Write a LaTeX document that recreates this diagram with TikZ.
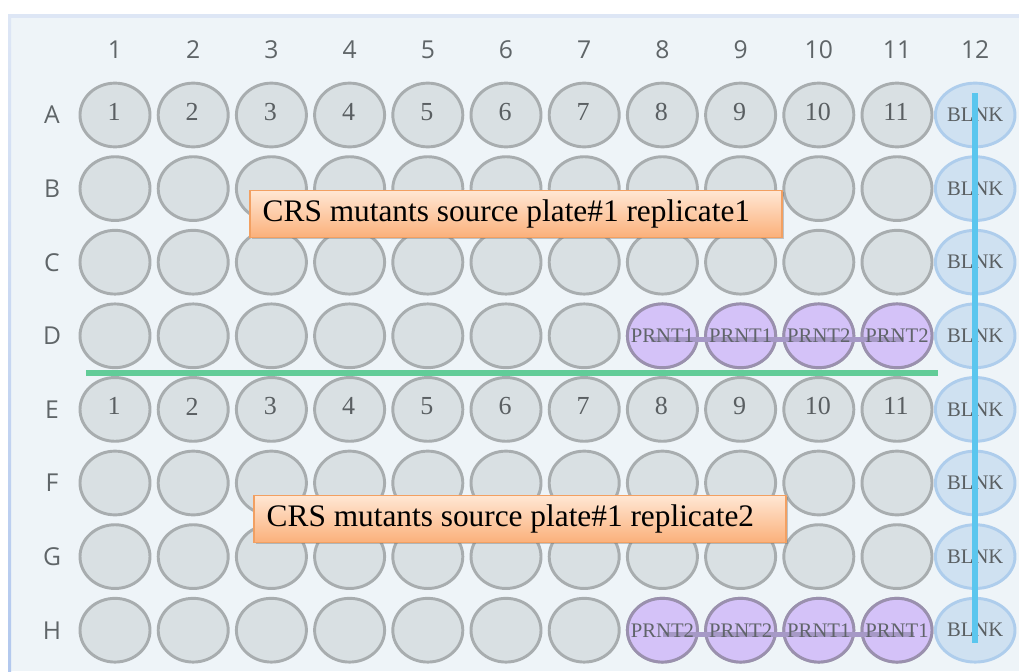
\documentclass[tikz,border=0pt]{standalone}
\usepackage{fontspec}
\setmainfont{Liberation Serif}
\newfontfamily\labfont{Open Sans}
\usetikzlibrary{shapes.geometric,shadows,calc}

\definecolor{platebg}{HTML}{EEF4F8}
\definecolor{platetop}{HTML}{DDE6F5}
\definecolor{plateside}{HTML}{B2C8EE}
\definecolor{wellfill}{HTML}{D9E0E3}
\definecolor{welledge}{HTML}{A8ADAF}
\definecolor{welltext}{HTML}{5A5F62}
\definecolor{labtext}{HTML}{5F6568}
\definecolor{blankfill}{HTML}{CFE1F1}
\definecolor{blankedge}{HTML}{AECDEC}
\definecolor{prntfill}{HTML}{D4C2F8}
\definecolor{prntedge}{HTML}{9A90AE}
\definecolor{prntline}{HTML}{A699C6}
\definecolor{blankline}{HTML}{5BC6EE}
\definecolor{splitline}{HTML}{62CC98}
\definecolor{tagtop}{HTML}{FFE7D4}
\definecolor{tagbot}{HTML}{FBB07A}
\definecolor{tagedge}{HTML}{F2A062}

\tikzset{
  well/.style={ellipse, draw=welledge, fill=wellfill, line width=2.2pt,
    minimum width=52.5pt, minimum height=47.8pt, inner sep=0pt,
    text=welltext, font=\fontsize{19}{19}\selectfont},
  blankwell/.style={well, draw=blankedge, fill=blankfill, font=\fontsize{15.5}{15.5}\selectfont},
  prntwell/.style={well, draw=prntedge, fill=prntfill},
  prnttext/.style={text=welltext!90!prntedge, font=\fontsize{15.5}{15.5}\selectfont, inner sep=0pt},
  axislabel/.style={text=labtext, font=\labfont\fontsize{18.5}{18.5}\selectfont, inner sep=0pt},
  tag/.style={draw=tagedge, line width=0.8pt, top color=tagtop, bottom color=tagbot,
    minimum width=399pt, minimum height=35.5pt, inner sep=0pt,
    drop shadow={shadow xshift=1.2pt, shadow yshift=-1.2pt, opacity=0.35, fill=black!60}},
  tagtext/.style={anchor=west, inner sep=0pt, text=black, font=\fontsize{23.5}{23.5}\selectfont},
  bar/.style={line width=#1, line cap=butt},
}

\begin{document}
\begin{tikzpicture}[x=0.75pt, y=-0.75pt]
\useasboundingbox (0,0) rectangle (1019,671);

% plate body
\fill[platebg] (8,14) rectangle (1019,671);
\fill[platetop] (8,14) rectangle (1019,18);
\shade[top color=platetop, bottom color=plateside] (8,14) rectangle (11,671);

% column and row headings
\foreach \c in {1,...,12}
  \node[axislabel] (col-\c) at ({115+(\c-1)*78.2}, 50) {\c};
\foreach \r [count=\i] in {A,B,C,D,E,F,G,H}
  \node[axislabel] (row-\r) at (52, {115+(\i-1)*73.6}) {\r};

% wells
\foreach \r [count=\i] in {A,B,C,D,E,F,G,H}{
  \foreach \c in {1,...,11}{
    \pgfmathsetmacro{\xx}{115+(\c-1)*78.2}
    \pgfmathsetmacro{\yy}{115+(\i-1)*73.6}
    \node[well] (w-\r-\c) at (\xx,\yy) {};
  }
  \node[blankwell] (w-\r-12) at ({115+11*78.2},{115+(\i-1)*73.6}) {BLNK};
}

% well numbers in rows A and E
\foreach \r in {A,E}
  \foreach \c in {1,...,11}
    \node[text=welltext, font=\fontsize{19.5}{19.5}\selectfont, inner sep=0pt] (n-\r-\c) at ($(w-\r-\c)+(-1,-3)$) {\c};

% parent controls
\foreach \c in {8,...,11}{
  \node[prntwell] (p-D-\c) at (w-D-\c) {};
  \node[prntwell] (p-H-\c) at (w-H-\c) {};
}
\draw[prntline, bar=3.8pt] ($(p-D-8.center)+(-11,4)$) -- ($(p-D-11.center)+(7,4)$);
\draw[prntline, bar=3.8pt] ($(p-H-8.center)+(1,4)$) -- ($(p-H-11.center)+(17,4)$);
\foreach \c/\t in {8/PRNT1,9/PRNT1,10/PRNT2,11/PRNT2}
  \node[prnttext] at (p-D-\c) {\t};
\foreach \c/\t in {8/PRNT2,9/PRNT2,10/PRNT1,11/PRNT1}
  \node[prnttext] at (p-H-\c) {\t};

% divider between the two replicates
\draw[splitline, bar=4.5pt] (86,373) -- (938,373);

% blank column marker
\draw[blankline, bar=4.5pt] ($(w-A-12.center)+(0,-22)$) -- ($(w-H-12.center)+(0,13)$);

% replicate tags
\node[tag] (tag1) at (516,214) {};
\node[tagtext] at ($(tag1.west)+(13,0)$) {CRS mutants source plate\#1 replicate1};
\node[tag] (tag2) at (520,519) {};
\node[tagtext] at ($(tag2.west)+(13,0)$) {CRS mutants source plate\#1 replicate2};
\end{tikzpicture}
\end{document}
